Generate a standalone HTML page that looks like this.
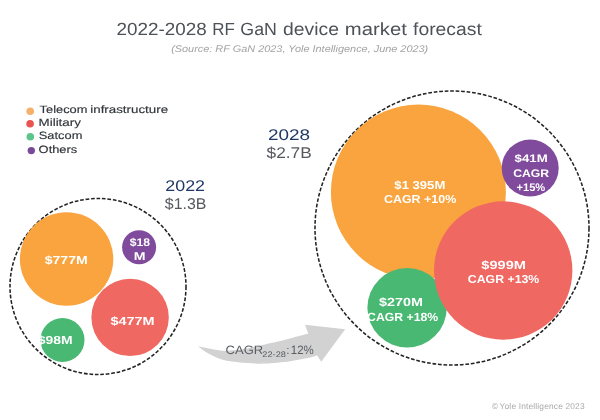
<!DOCTYPE html>
<html><head><meta charset="utf-8"><title>2022-2028 RF GaN device market forecast</title>
<style>
html,body{margin:0;padding:0;background:#fff;width:600px;height:420px;overflow:hidden}
svg{display:block;will-change:transform} text{text-rendering:geometricPrecision}
</style></head><body>
<svg width="600" height="420" viewBox="0 0 600 420">
<rect width="600" height="420" fill="#fff"/>
<circle cx="30.2" cy="111.2" r="3.8" fill="#f5b06a"/>
<circle cx="30.1" cy="123.8" r="3.8" fill="#e8524f"/>
<circle cx="30.3" cy="136.7" r="3.8" fill="#5cc58a"/>
<circle cx="31.3" cy="150.6" r="3.7" fill="#7a4a9a"/>
<path d="M197.9 346.3 C200.3 346.8 207.7 348.4 212.5 349.2 C217.3 349.9 221.1 350.9 226.5 350.8 C231.9 350.7 239.4 349.7 245.0 348.8 C250.6 347.9 254.2 346.8 260.0 345.5 C265.8 344.2 273.3 342.6 280.0 341.0 C286.7 339.4 295.3 336.9 300.0 335.7 C304.7 334.5 306.9 334.1 308.3 333.8 L305 324.8 L345.2 329.3 L321.2 361.7 L317 355.2 C315.8 355.6 314.5 356.5 310.0 357.5 C305.5 358.5 297.5 360.2 290.0 361.2 C282.5 362.2 272.1 363.3 265.0 363.6 C257.9 363.9 253.3 363.4 247.5 363.0 C241.7 362.6 234.9 362.1 230.0 361.3 C225.1 360.5 222.2 359.8 218.3 358.3 C214.4 356.8 210.1 354.5 206.7 352.5 C203.3 350.5 199.4 347.3 197.9 346.3 Z" fill="#d2d2d2"/>
<circle cx="98" cy="286.5" r="88" fill="none" stroke="#222" stroke-width="1.55" stroke-dasharray="3.7 1.8"/>
<circle cx="66.6" cy="259" r="46.7" fill="#f9a43e"/>
<circle cx="139.1" cy="247.3" r="17" fill="#804b9c"/>
<circle cx="130.1" cy="317.4" r="38.7" fill="#f06862"/>
<circle cx="62.5" cy="340" r="22" fill="#48b872"/>
<circle cx="452" cy="228" r="137" fill="none" stroke="#222" stroke-width="1.55" stroke-dasharray="3.7 1.8"/>
<circle cx="418.4" cy="192" r="87.5" fill="#f9a43e"/>
<circle cx="407.1" cy="307.8" r="39.7" fill="#48b872"/>
<circle cx="503.2" cy="270.5" r="69.2" fill="#f06862"/>
<circle cx="530.2" cy="168" r="28.5" fill="#804b9c"/>
<text x="116.58" y="35.30" font-family='"Liberation Sans", sans-serif' font-size="17.6" fill="#4d5258" textLength="90.07" lengthAdjust="spacingAndGlyphs">2022-2028</text>
<text x="212.33" y="35.30" font-family='"Liberation Sans", sans-serif' font-size="17.6" fill="#4d5258" textLength="22.60" lengthAdjust="spacingAndGlyphs">RF</text>
<text x="240.31" y="35.30" font-family='"Liberation Sans", sans-serif' font-size="17.6" fill="#4d5258" textLength="36.58" lengthAdjust="spacingAndGlyphs">GaN</text>
<text x="283.01" y="35.30" font-family='"Liberation Sans", sans-serif' font-size="17.6" fill="#4d5258" textLength="55.89" lengthAdjust="spacingAndGlyphs">device</text>
<text x="344.86" y="35.30" font-family='"Liberation Sans", sans-serif' font-size="17.6" fill="#4d5258" textLength="61.94" lengthAdjust="spacingAndGlyphs">market</text>
<text x="413.03" y="35.30" font-family='"Liberation Sans", sans-serif' font-size="17.6" fill="#4d5258" textLength="68.84" lengthAdjust="spacingAndGlyphs">forecast</text>
<text x="171.16" y="51.70" font-family='"Liberation Sans", sans-serif' font-size="9.7" fill="#a3a3a3" font-style="italic" textLength="257.11" lengthAdjust="spacingAndGlyphs">(Source: RF GaN 2023, Yole Intelligence, June 2023)</text>
<text x="39.58" y="113.20" font-family='"Liberation Sans", sans-serif' font-size="10.6" fill="#30353a" stroke="#30353a" stroke-width="0.15" textLength="47.81" lengthAdjust="spacingAndGlyphs">Telecom</text>
<text x="90.28" y="113.20" font-family='"Liberation Sans", sans-serif' font-size="10.6" fill="#30353a" stroke="#30353a" stroke-width="0.15" textLength="77.79" lengthAdjust="spacingAndGlyphs">infrastructure</text>
<text x="38.59" y="126.10" font-family='"Liberation Sans", sans-serif' font-size="10.6" fill="#30353a" stroke="#30353a" stroke-width="0.15" textLength="42.32" lengthAdjust="spacingAndGlyphs">Military</text>
<text x="38.80" y="139.40" font-family='"Liberation Sans", sans-serif' font-size="10.6" fill="#30353a" stroke="#30353a" stroke-width="0.15" textLength="43.58" lengthAdjust="spacingAndGlyphs">Satcom</text>
<text x="38.64" y="153.10" font-family='"Liberation Sans", sans-serif' font-size="10.6" fill="#30353a" stroke="#30353a" stroke-width="0.15" textLength="38.64" lengthAdjust="spacingAndGlyphs">Others</text>
<text x="267.97" y="139.80" font-family='"Liberation Sans", sans-serif' font-size="15.4" fill="#1f3864" textLength="42.10" lengthAdjust="spacingAndGlyphs">2028</text>
<text x="266.52" y="157.50" font-family='"Liberation Sans", sans-serif' font-size="15.5" fill="#55595e" textLength="45.20" lengthAdjust="spacingAndGlyphs">$2.7B</text>
<text x="165.30" y="190.80" font-family='"Liberation Sans", sans-serif' font-size="15.4" fill="#1f3864" textLength="39.77" lengthAdjust="spacingAndGlyphs">2022</text>
<text x="164.80" y="208.90" font-family='"Liberation Sans", sans-serif' font-size="15.6" fill="#55595e" textLength="41.52" lengthAdjust="spacingAndGlyphs">$1.3B</text>
<text x="44.73" y="264.20" font-family='"Liberation Sans", sans-serif' font-size="11.6" fill="#fff" font-weight="bold" textLength="43.00" lengthAdjust="spacingAndGlyphs">$777M</text>
<text x="129.66" y="245.70" font-family='"Liberation Sans", sans-serif' font-size="11.1" fill="#fff" font-weight="bold" textLength="20.26" lengthAdjust="spacingAndGlyphs">$18</text>
<text x="133.89" y="259.80" font-family='"Liberation Sans", sans-serif' font-size="11.2" fill="#fff" font-weight="bold" textLength="11.79" lengthAdjust="spacingAndGlyphs">M</text>
<text x="110.52" y="324.60" font-family='"Liberation Sans", sans-serif' font-size="11.7" fill="#fff" font-weight="bold" textLength="44.12" lengthAdjust="spacingAndGlyphs">$477M</text>
<text x="37.84" y="344.30" font-family='"Liberation Sans", sans-serif' font-size="11.6" fill="#fff" font-weight="bold" textLength="34.94" lengthAdjust="spacingAndGlyphs">$98M</text>
<text x="394.38" y="188.70" font-family='"Liberation Sans", sans-serif' font-size="11.5" fill="#fff" font-weight="bold" textLength="50.91" lengthAdjust="spacingAndGlyphs">$1 395M</text>
<text x="383.95" y="202.80" font-family='"Liberation Sans", sans-serif' font-size="11.6" fill="#fff" font-weight="bold" textLength="72.29" lengthAdjust="spacingAndGlyphs">CAGR +10%</text>
<text x="514.61" y="161.70" font-family='"Liberation Sans", sans-serif' font-size="10.9" fill="#fff" font-weight="bold" textLength="33.08" lengthAdjust="spacingAndGlyphs">$41M</text>
<text x="513.19" y="177.00" font-family='"Liberation Sans", sans-serif' font-size="11" fill="#fff" font-weight="bold" textLength="35.94" lengthAdjust="spacingAndGlyphs">CAGR</text>
<text x="516.48" y="190.80" font-family='"Liberation Sans", sans-serif' font-size="11" fill="#fff" font-weight="bold" textLength="28.79" lengthAdjust="spacingAndGlyphs">+15%</text>
<text x="481.37" y="269.00" font-family='"Liberation Sans", sans-serif' font-size="11.7" fill="#fff" font-weight="bold" textLength="44.61" lengthAdjust="spacingAndGlyphs">$999M</text>
<text x="467.84" y="283.20" font-family='"Liberation Sans", sans-serif' font-size="11.6" fill="#fff" font-weight="bold" textLength="71.49" lengthAdjust="spacingAndGlyphs">CAGR +13%</text>
<text x="379.12" y="306.00" font-family='"Liberation Sans", sans-serif' font-size="11.8" fill="#fff" font-weight="bold" textLength="43.85" lengthAdjust="spacingAndGlyphs">$270M</text>
<text x="367.14" y="321.00" font-family='"Liberation Sans", sans-serif' font-size="11.8" fill="#fff" font-weight="bold" textLength="71.01" lengthAdjust="spacingAndGlyphs">CAGR +18%</text>
<text x="225.61" y="353.50" font-family='"Liberation Sans", sans-serif' font-size="12.1" fill="#5a5e63" textLength="37.58" lengthAdjust="spacingAndGlyphs">CAGR</text>
<text x="262.37" y="356.60" font-family='"Liberation Sans", sans-serif' font-size="8.1" fill="#5a5e63" textLength="23.60" lengthAdjust="spacingAndGlyphs">22-28</text>
<text x="286.20" y="353.90" font-family='"Liberation Sans", sans-serif' font-size="11.6" fill="#5a5e63">:</text>
<text x="290.78" y="353.50" font-family='"Liberation Sans", sans-serif' font-size="12.2" fill="#5a5e63" textLength="22.99" lengthAdjust="spacingAndGlyphs">12%</text>
<text x="491.90" y="408.80" font-family='"Liberation Sans", sans-serif' font-size="8.4" fill="#a9a9a9">©</text>
<text x="499.58" y="408.60" font-family='"Liberation Sans", sans-serif' font-size="8.4" fill="#a9a9a9" textLength="84.97" lengthAdjust="spacing">Yole Intelligence 2023</text>
</svg>
</body></html>
